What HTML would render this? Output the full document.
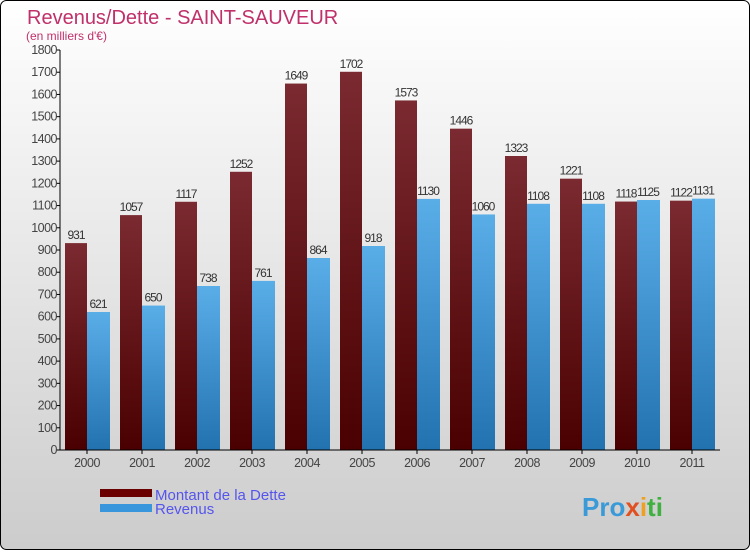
<!DOCTYPE html>
<html><head><meta charset="utf-8"><style>
body{margin:0;width:750px;height:550px;overflow:hidden;font-family:"Liberation Sans",sans-serif}
</style></head><body>
<svg width="750" height="550" xmlns="http://www.w3.org/2000/svg">
<defs>
<linearGradient id="bg" x1="0" y1="0" x2="0" y2="1"><stop offset="0" stop-color="#ffffff"/><stop offset="1" stop-color="#cccccc"/></linearGradient>
<linearGradient id="gd" x1="0" y1="0" x2="0" y2="1"><stop offset="0" stop-color="#7a2a30"/><stop offset="1" stop-color="#4a0000"/></linearGradient>
<linearGradient id="gb" x1="0" y1="0" x2="0" y2="1"><stop offset="0" stop-color="#5aaee8"/><stop offset="1" stop-color="#2272b0"/></linearGradient>
</defs>
<rect x="0.5" y="0.5" width="749" height="549" rx="6" fill="url(#bg)" stroke="#000"/>
<text x="27" y="24" font-size="20" fill="#c0306a">Revenus/Dette - SAINT-SAUVEUR</text>
<text x="26" y="40" font-size="12" fill="#c0306a">(en milliers d'€)</text>
<g id="plot"></g>
<rect x="100" y="489" width="52" height="8" fill="#6b0000"/>
<rect x="100" y="504" width="52" height="8" fill="#3896dc"/>
<text x="155" y="500" font-size="15" fill="#5555ee">Montant de la Dette</text>
<text x="155" y="514" font-size="15" fill="#5555ee">Revenus</text>
<text x="582" y="516" font-size="26" font-weight="bold" fill="#3a9ad8">Pro<tspan fill="#e05020">x</tspan><tspan fill="#f0a020">i</tspan><tspan fill="#40b040">ti</tspan></text>
</svg>
<script>
const years=["2000","2001","2002","2003","2004","2005","2006","2007","2008","2009","2010","2011"];
const dette=[931,1057,1117,1252,1649,1702,1573,1446,1323,1221,1118,1122];
const revenus=[621,650,738,761,864,918,1130,1060,1108,1108,1125,1131];
const yTicks=[0,100,200,300,400,500,600,700,800,900,1000,1100,1200,1300,1400,1500,1600,1700,1800];
const NS="http://www.w3.org/2000/svg";
const g=document.getElementById('plot');
const x0=60,y0=450,yMax=1800,ph=400,step=55;
const y=v=>y0-v/yMax*ph;
const cx=i=>x0+27+i*step;
function mk(t,a){const e=document.createElementNS(NS,t);for(const k in a)e.setAttribute(k,a[k]);g.appendChild(e);return e;}
yTicks.forEach(v=>{
 const l=mk('line',{x1:x0-4,x2:x0,y1:y(v),y2:y(v),stroke:'#000'});
 
 
 const t=mk('text',{x:x0-3,y:y(v)+4,'font-size':12.5,'text-anchor':'end',fill:'#444','letter-spacing':'-0.5'});
 t.textContent=v;
 
 
});
years.forEach((yr,i)=>{
 const c=cx(i);
 const b1=mk('rect',{x:c-22,y:y(dette[i]),width:22,height:y0-y(dette[i]),fill:'url(#gd)'});
 
 
 const b2=mk('rect',{x:c,y:y(revenus[i]),width:23,height:y0-y(revenus[i]),fill:'url(#gb)'});
 
 
 const t1=mk('text',{x:c-11,y:y(dette[i])-4,'font-size':12,'text-anchor':'middle',fill:'#333','letter-spacing':'-1'});
 t1.textContent=dette[i];
 
 
 const t2=mk('text',{x:c+11,y:y(revenus[i])-4,'font-size':12,'text-anchor':'middle',fill:'#333','letter-spacing':'-1'});
 t2.textContent=revenus[i];
 
 
 const tk=mk('line',{x1:c,x2:c,y1:y0,y2:y0+4,stroke:'#000'});
 
 
 const tl=mk('text',{x:c,y:y0+17,'font-size':12.5,'text-anchor':'middle',fill:'#444','letter-spacing':'-0.5'});
 tl.textContent=yr;
 
 
});
const ax=mk('line',{x1:x0,x2:x0,y1:y(yMax),y2:y0,stroke:'#000'});


const bx=mk('line',{x1:x0,x2:720,y1:y0,y2:y0,stroke:'#000'});


</script>
</body></html>
